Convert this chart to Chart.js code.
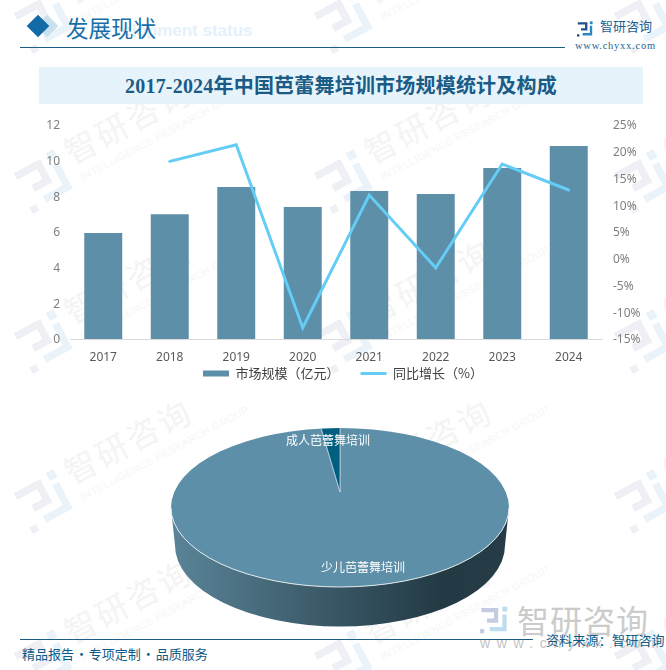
<!DOCTYPE html>
<html>
<head>
<meta charset="utf-8">
<script src="https://cdn.jsdelivr.net/npm/chart.js@4/dist/chart.umd.min.js"></script>
<style>
html, body { margin: 0; padding: 0; background: #fff; }
#page { position: relative; width: 666px; height: 670px; overflow: hidden; font-family: "Noto Sans CJK SC", sans-serif; }
#page > * { position: absolute; }
.mark { width: 0; height: 0; transform: rotate(-28deg); transform-origin: 0 0; white-space: nowrap; }
.mark svg { position: absolute; left: -26px; top: -24px; }
.mark .zh { position: absolute; left: 32px; top: -36px; font-size: 32px; line-height: 44px; letter-spacing: 3px; color: #f4f4f4; }
.mark .en { position: absolute; left: 34px; top: 8px; font: 10.5px/14px "Liberation Sans", sans-serif; letter-spacing: .4px; color: #f6f6f6; }
.lbl { white-space: nowrap; }
</style>
</head>
<body>
<div id="page">
    <div id="marks"></div>

    <div class="lbl" style="left:91px;top:19px;font:bold 17px/24px 'Liberation Sans';color:#e4f1fb">Development status</div>
    <div style="left:39px;top:18px;width:16px;height:16px;background:#c9e0ef;transform:rotate(45deg)"></div>
    <div style="left:30px;top:18px;width:16px;height:16px;background:#126aa6;transform:rotate(45deg)"></div>
    <div class="lbl" style="left:66px;top:11px;font-size:22.5px;line-height:32px;color:#1a6ea8">发展现状</div>
    <div style="left:20px;top:47px;width:545px;height:1px;background:#1a5f88"></div>
    <div id="topLogo" style="left:577px;top:18px"></div>
    <div class="lbl" style="left:600px;top:17px;font-size:13px;line-height:18px;color:#1f5f8f">智研咨询</div>
    <div class="lbl" style="left:575px;top:39px;font:10.5px/14px 'Liberation Serif';letter-spacing:.75px;color:#1f5f8f">www.chyxx.com</div>

    <div style="left:39px;top:67px;width:604px;height:37px;background:#e6f3fb"></div>
    <div class="lbl" style="left:39px;top:72px;width:604px;text-align:center;font-family:'Liberation Serif','Noto Sans CJK SC';font-weight:bold;font-size:20px;letter-spacing:.2px;line-height:28px;color:#1a5c85">2017-2024年中国芭蕾舞培训市场规模统计及构成</div>

    <div id="bigLogo" style="left:480px;top:606px"></div>
    <div class="lbl" style="left:517px;top:597px;font-size:32px;line-height:44px;letter-spacing:1px;color:#cbcbcb">智研咨询</div>
    <div class="lbl" style="left:480px;top:635px;font:14px/16px 'Liberation Sans';letter-spacing:6.6px;color:#c4c4c4">www.chyxx.com</div>

    <canvas id="pieCanvas" width="380" height="280" style="left:150px;top:352px"></canvas>
    <canvas id="barCanvas" width="666" height="297" style="left:10px;top:110px"></canvas>

    <div style="left:20px;top:639px;width:513px;height:1px;background:#1a5f88"></div>
    <div class="lbl" style="left:546px;top:630px;font-size:13px;line-height:20px;letter-spacing:.2px;color:#0d5a85">资料来源：智研咨询</div>
    <div class="lbl" style="left:22px;top:644px;font-size:13px;line-height:20px;word-spacing:-2px;color:#0d5a85">精品报告 · 专项定制 · 品质服务</div>
</div>

<script>
const years      = ['2017', '2018', '2019', '2020', '2021', '2022', '2023', '2024']
const marketSize = [5.94, 7.0, 8.52, 7.4, 8.3, 8.13, 9.59, 10.82]
const yoyGrowth  = [null, 18.2, 21.3, -12.9, 11.9, -1.7, 17.7, 12.85]
const seriesNames = ['市场规模（亿元）', '同比增长（%）']

const pieLabels = ['少儿芭蕾舞培训', '成人芭蕾舞培训']
const pieShares = [97.8, 2.2]

const BAR_COLOR  = '#5d8fa8'
const LINE_COLOR = '#63cdf5'
const WEDGE_COLOR = '#005f80'

function logoSvg(c1, c2, size) {
    return `<svg width="${size}" height="${size}" viewBox="0 0 40 40" fill="none">
        <path d="M2 6 H23 V21 H10" stroke="${c1}" stroke-width="6"/>
        <rect x="0" y="33" width="6" height="6" fill="${c1}"/>
        <rect x="32" y="1" width="7" height="7" fill="${c2}"/>
        <path d="M35 12 V33 H14" stroke="${c2}" stroke-width="6"/>
    </svg>`
}

// marca de agua repetida
const marksBox = document.getElementById('marks')
for (let col = 0; col < 3; col++) {
    for (let row = 0; row < 5; row++) {
        const m = document.createElement('div')
        m.className = 'mark'
        m.style.position = 'absolute'
        m.style.left = (44 + col * 300) + 'px'
        m.style.top  = (20 + row * 160) + 'px'
        m.innerHTML = logoSvg('#eef0f5', '#e9f3f9', 50) + '<div class="zh">智研咨询</div><div class="en">INTELLIGENCE RESEARCH GROUP</div>'
        marksBox.appendChild(m)
    }
}
document.getElementById('topLogo').innerHTML = logoSvg('#24508f', '#2e86c1', 16)
document.getElementById('bigLogo').innerHTML = logoSvg('#c3cce0', '#bcdcf0', 28)

// la leyenda queda pegada al eje, el padding solo separa los items
const legendUp = {
    id: 'legendUp',
    afterLayout(chart) {
        chart.legend.top -= 17
    }
}

new Chart(document.getElementById('barCanvas'), {
    type: 'bar',
    data: {
        labels: years,
        datasets: [
            { label: seriesNames[0], data: marketSize, yAxisID: 'y', backgroundColor: BAR_COLOR, barPercentage: 0.571, categoryPercentage: 1, order: 2 },
            { label: seriesNames[1], data: yoyGrowth, yAxisID: 'y1', type: 'line', borderColor: LINE_COLOR, backgroundColor: LINE_COLOR, borderWidth: 3, tension: 0, pointRadius: 0, borderCapStyle: 'round', order: 1 }
        ]
    },
    options: {
        responsive: false,
        animation: false,
        layout: { padding: { top: 15, bottom: 0 } },
        plugins: {
            tooltip: { enabled: false },
            legend: {
                position: 'bottom',
                labels: {
                    color: '#404040',
                    font: { family: '"Noto Sans CJK SC"', size: 13 },
                    usePointStyle: true,
                    pointStyleWidth: 26,
                    boxHeight: 6,
                    padding: 21,
                    sort: (a, b) => a.datasetIndex - b.datasetIndex,
                    generateLabels(chart) {
                        const items = Chart.defaults.plugins.legend.labels.generateLabels(chart)
                        items.forEach(it => { it.pointStyle = it.datasetIndex === 0 ? 'rect' : 'line' })
                        return items
                    }
                }
            }
        },
        scales: {
            x: {
                grid: { display: false },
                border: { color: '#d9d9d9' },
                ticks: { color: '#595959', font: { family: '"Noto Sans"', size: 12 }, padding: 3, maxRotation: 0, autoSkip: false },
                afterFit(s) { s.height = 24 }
            },
            y: {
                min: 0, max: 12,
                grid: { display: false },
                border: { display: false },
                ticks: { stepSize: 2, autoSkip: false, color: '#7f7f7f', font: { family: '"Noto Sans"', size: 12 }, padding: 2, labelOffset: 1 },
                afterFit(s) { s.width = 60 }
            },
            y1: {
                position: 'right',
                min: -15, max: 25,
                grid: { display: false },
                border: { display: false },
                ticks: { stepSize: 5, autoSkip: false, color: '#7f7f7f', font: { family: '"Noto Sans"', size: 12 }, padding: 3, labelOffset: 1, callback: v => v + '%' },
                afterFit(s) { s.width = 74 }
            }
        }
    },
    plugins: [legendUp]
})

// el pastel 3D: la cara es el pie de Chart.js aplastado y recortado a la elipse
const TOP_RX = 169, TOP_RY = 79.5
const FACE_CY = 155.5      // centro de la elipse en el canvas
const FLATTEN = 0.47

const pie3d = {
    id: 'pie3d',
    beforeDatasetsDraw(chart) {
        const ctx = chart.ctx
        const cx = chart.width / 2, cy = chart.height / 2

        // pared lateral
        const grad = ctx.createLinearGradient(cx - TOP_RX, 0, cx + TOP_RX, 0)
        grad.addColorStop(0, '#5a8498')
        grad.addColorStop(0.3, '#456878')
        grad.addColorStop(0.55, '#34505e')
        grad.addColorStop(0.8, '#233a44')
        grad.addColorStop(1, '#263d47')
        ctx.save()
        ctx.beginPath()
        ctx.ellipse(cx, FACE_CY, TOP_RX, TOP_RY, 0, Math.PI, 0, true)
        ctx.lineTo(cx + 165, FACE_CY + 38)
        ctx.ellipse(cx, FACE_CY + 38, 165, 81, 0, 0, Math.PI)
        ctx.closePath()
        ctx.fillStyle = grad
        ctx.fill()
        ctx.restore()

        ctx.save()
        ctx.beginPath()
        ctx.ellipse(cx, FACE_CY, TOP_RX, TOP_RY, 0, 0, Math.PI * 2)
        ctx.clip()
        ctx.translate(cx, cy)
        ctx.scale(1, FLATTEN)
        ctx.translate(-cx, -cy)
    },
    afterDatasetsDraw(chart) {
        const ctx = chart.ctx
        const cx = chart.width / 2
        ctx.restore()

        ctx.save()
        ctx.beginPath()
        ctx.ellipse(cx, FACE_CY, TOP_RX, TOP_RY, 0, 0, Math.PI)
        ctx.strokeStyle = '#dfe8ec'
        ctx.lineWidth = 1
        ctx.stroke()

        ctx.fillStyle = '#fff'
        ctx.font = '12px "Noto Sans CJK SC"'
        ctx.textAlign = 'center'
        ctx.textBaseline = 'middle'
        ctx.fillText(pieLabels[0], 213, 215)
        ctx.fillText(pieLabels[1], 178, 88)
        ctx.restore()
    }
}

new Chart(document.getElementById('pieCanvas'), {
    type: 'pie',
    data: {
        labels: pieLabels,
        datasets: [{
            data: pieShares,
            backgroundColor: [BAR_COLOR, WEDGE_COLOR],
            borderColor: '#c6d8e0',
            borderWidth: 1,
            radius: 230,
            clip: false
        }]
    },
    options: {
        responsive: false,
        animation: false,
        plugins: { legend: { display: false }, tooltip: { enabled: false } }
    },
    plugins: [pie3d]
})
</script>
</body>
</html>
